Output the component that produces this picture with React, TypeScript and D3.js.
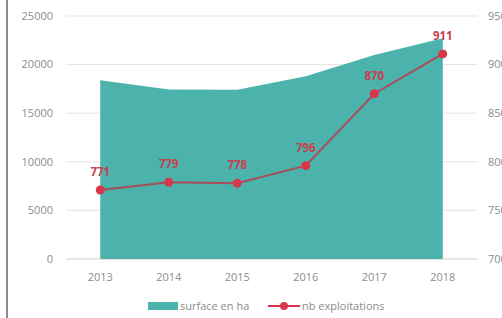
import React from 'react';
import * as d3 from 'd3';

const years = ['2013', '2014', '2015', '2016', '2017', '2018'];
const surface = [18400, 17450, 17400, 18800, 21000, 22700];
const exploitations = [771, 779, 778, 796, 870, 911];
const leftTicks = [0, 5000, 10000, 15000, 20000, 25000];
const rightTicks = [700, 750, 800, 850, 900, 950];

const App = () => {
  const width = 502;
  const height = 318;
  const margin = { top: 16, bottom: 259, left: 66, right: 477 };

  // x: one slot per year, marks at the slot centre
  const x = d3.scalePoint().domain(years).range([margin.left, margin.right]).padding(0.5);
  const yLeft = d3.scaleLinear().domain([0, 25000]).range([margin.bottom, margin.top]);
  const yRight = d3.scaleLinear().domain([700, 950]).range([margin.bottom, margin.top]);

  const area = d3
    .area<number>()
    .x((d, i) => x(years[i]) as number)
    .y0(yLeft(0))
    .y1((d) => yLeft(d));

  const line = d3
    .line<number>()
    .x((d, i) => x(years[i]) as number)
    .y((d) => yRight(d));

  const font = "'Open Sans', sans-serif";

  return (
    <svg
      width={width}
      height={height}
      style={{ position: 'absolute', left: 0, top: 0, background: '#fff' }}
      fontFamily={font}
    >
      <line x1={7} x2={7} y1={0} y2={height} stroke="#8a8a8a" strokeWidth={2} />

      {/* grid */}
      {leftTicks.map((t) => (
        <line
          key={t}
          x1={margin.left}
          x2={margin.right}
          y1={yLeft(t)}
          y2={yLeft(t)}
          stroke={t === 0 ? '#d0d0d0' : '#e4e4e4'}
          strokeWidth={1}
        />
      ))}

      {/* left axis labels */}
      {leftTicks.map((t) => (
        <text key={t} x={53} y={yLeft(t)} dy="0.35em" textAnchor="end" fontSize={11} fill="#8c8c8c">
          {t}
        </text>
      ))}

      {/* right axis labels (cut by the frame edge, as in the source) */}
      {rightTicks.map((t) => (
        <text key={t} x={488} y={yRight(t)} dy="0.35em" textAnchor="start" fontSize={11} fill="#8c8c8c">
          {t}
        </text>
      ))}

      <path d={area(surface) as string} fill="#4bb2ac" />

      <path d={line(exploitations) as string} fill="none" stroke="#a94d5a" strokeWidth={2} />
      {exploitations.map((v, i) => (
        <g key={i}>
          <circle cx={x(years[i])} cy={yRight(v)} r={4.5} fill="#d8364a" />
          <text
            x={x(years[i])}
            y={yRight(v) - 14}
            textAnchor="middle"
            fontSize={11.5}
            fontWeight="bold"
            fill="#c8404e"
          >
            {v}
          </text>
        </g>
      ))}

      {/* x labels */}
      {years.map((yr) => (
        <text key={yr} x={x(yr)} y={281} textAnchor="middle" fontSize={11} fill="#8c8c8c">
          {yr}
        </text>
      ))}

      {/* legend */}
      <rect x={148} y={302} width={30} height={8} fill="#4bb2ac" />
      <text x={180} y={306} dy="0.35em" fontSize={11} fill="#8c8c8c">
        surface en ha
      </text>
      <line x1={268} x2={300} y1={306} y2={306} stroke="#d8364a" strokeWidth={2} />
      <circle cx={284} cy={306} r={4} fill="#d8364a" />
      <text x={302} y={306} dy="0.35em" fontSize={11} fill="#8c8c8c">
        nb exploitations
      </text>
    </svg>
  );
};

export default App;
